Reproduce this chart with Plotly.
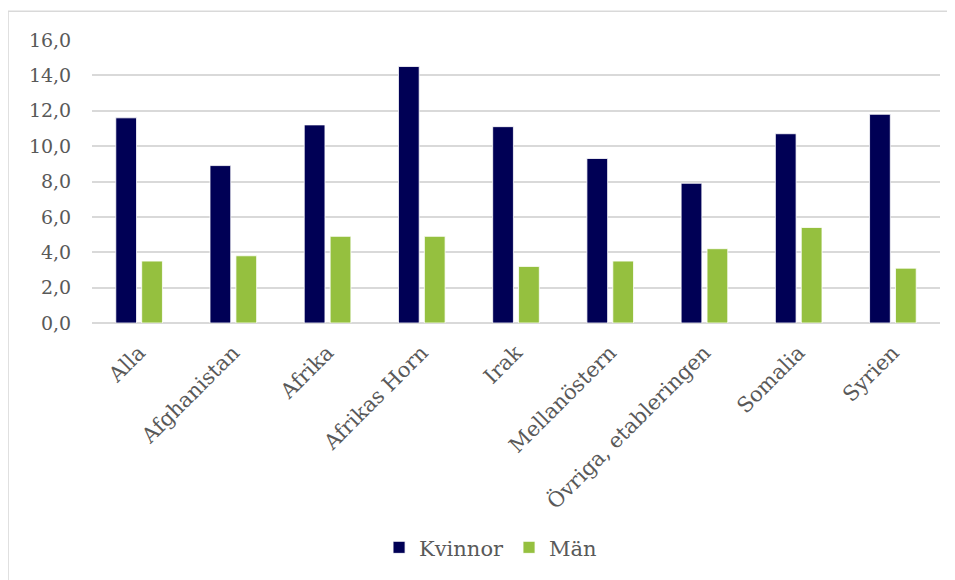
import plotly.graph_objects as go

categories = ["Alla", "Afghanistan", "Afrika", "Afrikas Horn", "Irak", "Mellanöstern",
              "Övriga, etableringen", "Somalia", "Syrien"]
kvinnor = [11.6, 8.9, 11.2, 14.5, 11.1, 9.3, 7.9, 10.7, 11.8]
man = [3.5, 3.8, 4.9, 4.9, 3.2, 3.5, 4.2, 5.4, 3.1]
y_ticks = [0, 2, 4, 6, 8, 10, 12, 14, 16]
y_tick_labels = ["0,0", "2,0", "4,0", "6,0", "8,0", "10,0", "12,0", "14,0", "16,0"]

FONT = "DejaVu Serif"
GREY = "#595959"

fig = go.Figure()
fig.add_trace(go.Bar(name="Kvinnor", x=categories, y=kvinnor,
                     marker=dict(color="#000055", line=dict(color="white", width=0.8))))
fig.add_trace(go.Bar(name="Män", x=categories, y=man,
                     marker=dict(color="#95C03F", line=dict(color="white", width=0.8))))

fig.update_layout(
    width=947, height=572,
    margin=dict(l=84, r=15, t=32, b=257, autoexpand=False),
    paper_bgcolor="white", plot_bgcolor="white",
    barmode="group", bargap=0.45, bargroupgap=0.2,
    font=dict(family=FONT, color=GREY, size=18),
    showlegend=True,
    legend=dict(orientation="h", x=0.47, xanchor="center", y=-0.794, yanchor="middle",
                font=dict(family=FONT, size=21, color=GREY), itemwidth=30,
                traceorder="normal"),
    xaxis=dict(tickangle=-45, showgrid=False, showline=False,
               ticks="outside", ticklen=8, tickcolor="rgba(0,0,0,0)",
               tickfont=dict(family=FONT, size=21, color=GREY)),
    yaxis=dict(range=[0, 16], tickvals=y_ticks, ticktext=y_tick_labels,
               showgrid=True, gridcolor="#d9d9d9", gridwidth=1.5,
               zeroline=True, zerolinecolor="#d9d9d9", zerolinewidth=1.5,
               ticks="outside", ticklen=16, tickcolor="rgba(0,0,0,0)",
               tickfont=dict(family=FONT, size=19, color=GREY)),
    shapes=[dict(type="rect", xref="paper", yref="paper",
                 x0=-0.099, x1=1.2, y0=-1.2, y1=1.102,
                 line=dict(color="#d9d9d9", width=1.5), fillcolor="rgba(0,0,0,0)",
                 layer="below")],
)

fig.write_html("out.html")
